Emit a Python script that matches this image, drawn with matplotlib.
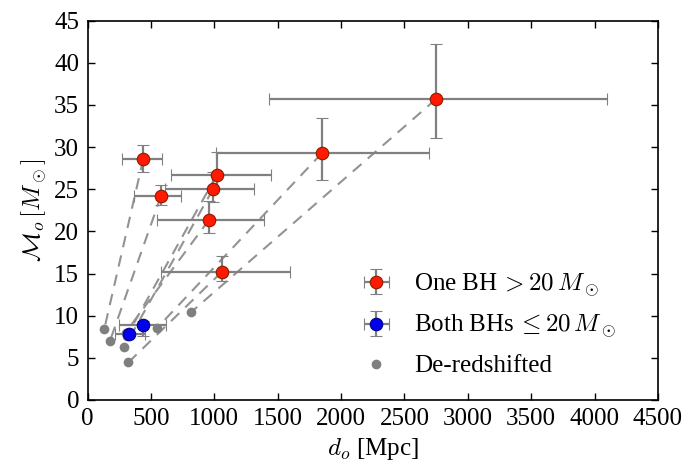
import matplotlib
matplotlib.use("Agg")
import matplotlib.pyplot as plt

plt.rcParams['font.family'] = ['Liberation Serif', 'DejaVu Serif']
plt.rcParams['mathtext.fontset'] = 'cm'

# Events with one BH > 20 Msun (observed)
red_d = [440, 580, 1020, 990, 960, 1060, 1850, 2750]
red_d_lo = [170, 210, 360, 380, 410, 480, 840, 1320]
red_d_hi = [150, 160, 430, 320, 430, 540, 840, 1350]
red_m = [28.6, 24.2, 26.7, 25.0, 21.4, 15.2, 29.3, 35.7]
red_m_lo = [1.5, 1.1, 1.7, 1.5, 1.6, 1.1, 3.2, 4.6]
red_m_hi = [1.6, 1.3, 2.7, 2.1, 2.2, 1.9, 4.2, 6.5]

# Events with both BHs <= 20 Msun
blue_d = [440, 330]
blue_d_lo = [190, 110]
blue_d_hi = [180, 120]
blue_m = [8.9, 7.8]
blue_m_lo = [1.3, 0.2]
blue_m_hi = [0.5, 0.2]

# De-redshifted counterparts of the red events (same order)
grey_d = [132, 177, 310, 290, 300, 322, 546, 816]
grey_m = [8.4, 7.0, 7.6, 6.25, 8.0, 4.45, 8.5, 10.4]

fig = plt.figure(figsize=(6.89, 4.70), dpi=100)
ax = fig.add_axes([0.127, 0.149, 0.828, 0.807])

for xr, yr, xg, yg in zip(red_d, red_m, grey_d, grey_m):
    ax.plot([xr, xg], [yr, yg], color='#939393', lw=1.5,
            dashes=(5.5, 4), zorder=1)

h3, = ax.plot(grey_d, grey_m, 'o', color='#7f7f7f', ms=7, mec='none',
              zorder=2, label='De-redshifted')

ebkw = dict(fmt='o', ecolor='#808080', elinewidth=1.6, capsize=4,
            capthick=2, ms=9, zorder=3)
h1 = ax.errorbar(red_d, red_m, xerr=[red_d_lo, red_d_hi],
                 yerr=[red_m_lo, red_m_hi], mfc='#ff1a00', mec='#8b1a00',
                 mew=0.8, label=r'One BH$\,>20\,M_\odot$', **ebkw)
h2 = ax.errorbar(blue_d, blue_m, xerr=[blue_d_lo, blue_d_hi],
                 yerr=[blue_m_lo, blue_m_hi], mfc='#0000ee', mec='#00008b',
                 mew=0.8, label=r'Both BHs$\,\leq20\,M_\odot$', **ebkw)

ax.set_xlim(0, 4500)
ax.set_ylim(0, 45)
ax.set_xticks(range(0, 4501, 500))
ax.set_yticks(range(0, 46, 5))
ax.tick_params(direction='in', top=True, right=True, length=5,
               width=1, labelsize=18, pad=6)
for s in ax.spines.values():
    s.set_linewidth(1.2)

ax.set_xlabel(r'$d_o$ [Mpc]', fontsize=18, labelpad=4)
ax.set_ylabel(r'$\mathcal{M}_o\,[M_\odot]$', fontsize=18, labelpad=4)

leg = ax.legend(handles=[h1, h2, h3], loc='lower left',
                bbox_to_anchor=(0.423, 0.0), frameon=False,
                fontsize=18, labelspacing=0.58, handletextpad=0.5,
                numpoints=1)

fig.savefig('out.png', dpi=100)
